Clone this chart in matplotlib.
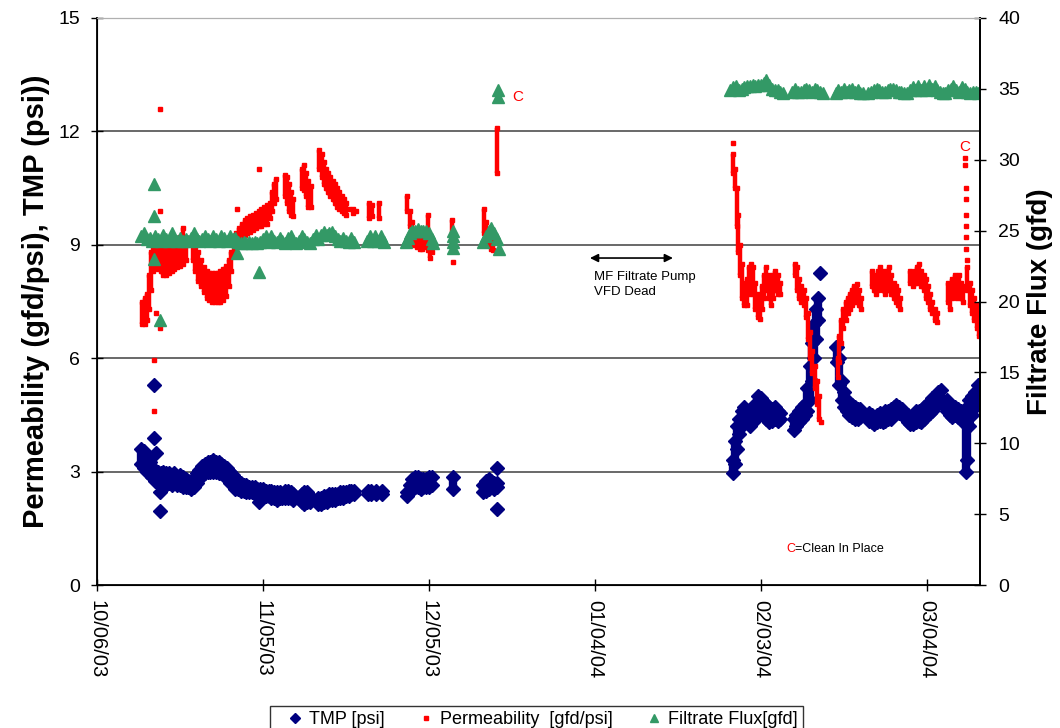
import datetime
import matplotlib
matplotlib.use("Agg")
import matplotlib.pyplot as plt
import matplotlib.dates as mdates
from matplotlib.lines import Line2D

plt.rcParams['font.family'] = ['Liberation Sans', 'DejaVu Sans']

start = datetime.datetime(2003, 10, 6)

# TMP [psi] : (days after 10/06/03, low, high)
tmp_fall = [
    (8.0, 3.2, 3.6), (8.5, 3.1, 3.55), (9.0, 3.0, 3.4), (9.5, 2.95, 3.25), (10.0, 2.85, 3.1),
    (10.5, 2.75, 3.05), (11.0, 2.7, 3.0), (11.5, 2.7, 2.95), (12.0, 2.7, 3.0), (12.5, 2.65, 2.95),
    (13.0, 2.7, 2.95), (13.5, 2.65, 2.9), (14.0, 2.7, 2.95), (14.5, 2.65, 2.85), (15.0, 2.65, 2.9),
    (15.5, 2.6, 2.85), (16.0, 2.6, 2.8), (16.5, 2.6, 2.75), (17.0, 2.55, 2.75), (17.5, 2.6, 2.8),
    (18.0, 2.7, 2.95), (18.5, 2.8, 3.05), (19.0, 2.9, 3.15), (19.5, 2.95, 3.2), (20.0, 3.0, 3.25),
    (20.5, 3.0, 3.25), (21.0, 3.0, 3.3), (21.5, 3.0, 3.25), (22.0, 2.95, 3.25), (22.5, 2.95, 3.2),
    (23.0, 2.9, 3.15), (23.5, 2.8, 3.1), (24.0, 2.7, 3.0), (24.5, 2.65, 2.9), (25.0, 2.55, 2.8),
    (25.5, 2.55, 2.75), (26.0, 2.5, 2.7), (26.5, 2.5, 2.65), (27.0, 2.45, 2.65), (27.5, 2.45, 2.6),
    (28.0, 2.45, 2.6), (28.5, 2.4, 2.6), (29.0, 2.4, 2.55), (29.5, 2.4, 2.55), (30.0, 2.35, 2.55),
    (30.5, 2.35, 2.5), (31.0, 2.35, 2.5), (31.5, 2.3, 2.5), (32.0, 2.3, 2.45), (32.5, 2.25, 2.45),
    (33.0, 2.3, 2.45), (33.5, 2.3, 2.4), (34.0, 2.3, 2.5), (34.5, 2.3, 2.5), (35.0, 2.3, 2.45),
    (35.5, 2.25, 2.4), (37.0, 2.2, 2.4), (37.5, 2.15, 2.45), (38.0, 2.2, 2.45), (38.5, 2.2, 2.35),
    (40.0, 2.15, 2.3), (40.5, 2.15, 2.3), (41.0, 2.2, 2.35), (41.5, 2.2, 2.35), (42.0, 2.25, 2.4),
    (42.5, 2.25, 2.4), (43.0, 2.25, 2.4), (43.5, 2.3, 2.4), (44.0, 2.3, 2.45), (44.5, 2.3, 2.45),
    (45.0, 2.35, 2.45), (45.5, 2.35, 2.5), (46.0, 2.4, 2.5), (46.5, 2.4, 2.5),
    (49.0, 2.4, 2.5), (49.5, 2.4, 2.5), (50.5, 2.4, 2.5), (51.5, 2.4, 2.5),
    (56.0, 2.35, 2.45), (56.5, 2.45, 2.65), (57.0, 2.55, 2.8), (57.5, 2.6, 2.85), (58.0, 2.6, 2.85),
    (58.5, 2.55, 2.8), (59.0, 2.6, 2.8), (59.5, 2.6, 2.8), (60.0, 2.6, 2.85), (60.5, 2.65, 2.85),
    (64.3, 2.55, 2.85),
    (69.8, 2.45, 2.65), (70.3, 2.5, 2.75), (70.8, 2.55, 2.8), (71.3, 2.6, 2.75), (71.8, 2.55, 2.7),
    (72.3, 2.6, 2.7),
]
tmp_winter = [
    (115.0, 2.95, 3.3), (115.3, 3.2, 3.8), (115.6, 3.6, 4.2), (116.0, 4.0, 4.4), (116.5, 4.2, 4.6),
    (117.0, 4.3, 4.7), (117.5, 4.3, 4.6), (118.0, 4.2, 4.5), (118.5, 4.3, 4.7), (119.0, 4.4, 4.8),
    (119.5, 4.6, 5.0), (120.0, 4.6, 4.95), (120.5, 4.5, 4.85), (121.0, 4.4, 4.8), (121.5, 4.3, 4.6),
    (122.0, 4.35, 4.65), (122.5, 4.4, 4.7), (123.0, 4.35, 4.6), (123.5, 4.4, 4.55),
    (125.9, 4.1, 4.4), (126.4, 4.2, 4.5), (126.9, 4.3, 4.6), (127.4, 4.4, 4.7), (127.9, 4.5, 4.8),
    (128.4, 4.6, 5.2), (128.8, 4.9, 5.8), (129.2, 5.4, 6.4), (129.6, 6.0, 6.9), (130.0, 6.5, 7.3),
    (130.4, 7.0, 7.6),
    (133.8, 5.9, 6.3), (134.2, 5.3, 6.0), (134.6, 4.9, 5.4), (135.0, 4.7, 5.1), (135.5, 4.6, 4.9),
    (136.0, 4.5, 4.8), (136.5, 4.45, 4.75), (137.0, 4.4, 4.7), (137.5, 4.4, 4.65), (138.0, 4.45, 4.65),
    (139.5, 4.35, 4.55), (140.0, 4.3, 4.5), (140.5, 4.25, 4.45), (141.0, 4.3, 4.5), (141.5, 4.35, 4.55),
    (142.0, 4.3, 4.5), (142.5, 4.35, 4.6), (143.0, 4.4, 4.6), (143.5, 4.4, 4.65), (144.0, 4.5, 4.7),
    (144.5, 4.55, 4.75), (145.0, 4.55, 4.7), (145.5, 4.5, 4.65),
    (146.5, 4.3, 4.5), (147.0, 4.25, 4.45), (147.5, 4.25, 4.5), (148.0, 4.3, 4.6), (148.5, 4.35, 4.6),
    (149.0, 4.3, 4.55), (149.5, 4.4, 4.7), (150.0, 4.5, 4.8), (150.5, 4.55, 4.85), (151.0, 4.6, 4.95),
    (151.5, 4.7, 5.0), (152.0, 4.8, 5.1), (152.5, 4.85, 5.15),
    (153.6, 4.6, 4.9), (154.1, 4.5, 4.8), (154.6, 4.45, 4.7), (155.1, 4.5, 4.7), (155.6, 4.45, 4.65),
    (156.1, 4.4, 4.6), (156.6, 4.3, 4.5), (157.0, 3.0, 4.3), (157.3, 3.3, 4.7), (157.7, 4.2, 4.9),
    (158.2, 4.5, 5.0), (158.7, 4.7, 5.1), (159.2, 4.9, 5.3),
]
tmp_single = [
    (10.3, 5.3), (10.3, 3.9), (10.6, 3.5), (11.4, 2.45), (11.4, 1.97), (29.3, 2.2),
    (72.3, 3.1), (72.3, 2.0), (130.7, 8.25), (133.6, 6.3),
]

# Permeability [gfd/psi] : (day, low, high)
perm_fall = [
    (8.2, 6.9, 7.5), (8.6, 6.9, 7.6), (9.0, 7.0, 7.7), (9.4, 7.3, 8.2), (9.8, 7.8, 8.8),
    (10.2, 8.3, 9.0), (10.6, 8.4, 9.05), (11.0, 8.35, 9.05), (11.5, 8.3, 9.0), (12.0, 8.2, 9.05),
    (12.5, 8.2, 9.0), (13.0, 8.25, 9.0), (13.5, 8.3, 9.05), (14.0, 8.35, 9.05), (14.5, 8.4, 9.1),
    (15.0, 8.45, 9.2), (15.5, 8.5, 9.45), (16.0, 8.6, 9.1),
    (17.3, 8.6, 9.0), (17.8, 8.3, 8.95), (18.3, 8.05, 8.8), (18.8, 7.9, 8.6), (19.3, 7.75, 8.4),
    (19.8, 7.6, 8.3), (20.3, 7.55, 8.25), (20.8, 7.5, 8.25), (21.3, 7.5, 8.25), (21.8, 7.5, 8.25),
    (22.3, 7.5, 8.3), (22.8, 7.55, 8.35), (23.3, 7.65, 8.45), (23.8, 7.9, 8.6), (24.3, 8.3, 8.8),
    (24.7, 8.7, 9.1), (25.2, 9.0, 9.3), (25.7, 9.1, 9.45), (26.2, 9.2, 9.55), (26.7, 9.25, 9.65),
    (27.2, 9.3, 9.7), (27.7, 9.35, 9.75), (28.2, 9.4, 9.8), (28.7, 9.45, 9.85), (29.2, 9.5, 9.9),
    (29.7, 9.5, 9.95), (30.2, 9.55, 10.0), (30.7, 9.55, 10.05), (31.2, 9.7, 10.1), (31.6, 9.9, 10.4),
    (32.0, 10.1, 10.6), (32.4, 10.2, 10.75),
    (33.9, 10.3, 10.85), (34.3, 10.1, 10.8), (34.7, 9.9, 10.6), (35.1, 9.8, 10.4), (35.5, 9.75, 10.2),
    (37.0, 10.5, 11.0), (37.4, 10.45, 11.1), (37.8, 10.3, 10.9), (38.2, 10.0, 10.7), (38.6, 10.0, 10.55),
    (40.2, 11.0, 11.5), (40.6, 10.8, 11.4), (41.0, 10.6, 11.2), (41.4, 10.5, 11.0), (41.8, 10.4, 10.9),
    (42.2, 10.3, 10.8), (42.6, 10.2, 10.7), (43.0, 10.1, 10.6), (43.4, 10.0, 10.5), (43.8, 9.95, 10.4),
    (44.2, 9.9, 10.3), (44.6, 9.85, 10.2), (45.0, 9.8, 10.1),
    (49.2, 9.7, 10.1), (49.7, 9.75, 10.05), (51.0, 9.7, 10.1),
    (56.1, 9.9, 10.3), (56.5, 9.5, 9.9), (56.9, 9.2, 9.6), (57.3, 9.0, 9.35), (57.8, 8.95, 9.2),
    (58.3, 8.9, 9.15), (58.8, 8.9, 9.15), (59.3, 8.95, 9.2), (59.8, 8.85, 9.8), (60.2, 8.65, 9.1),
    (60.6, 8.8, 9.05),
    (64.2, 9.05, 9.65),
    (70.0, 9.3, 9.95), (70.4, 9.1, 9.6), (70.8, 9.0, 9.3), (71.2, 8.9, 9.2), (71.6, 8.85, 9.1),
    (72.3, 10.9, 12.1),
]
perm_winter = [
    (115.0, 10.9, 11.4), (115.3, 10.5, 11.0), (115.6, 9.5, 10.5), (115.9, 8.8, 9.8), (116.2, 8.2, 9.0),
    (116.5, 7.6, 8.5), (117.0, 7.4, 8.0), (117.4, 7.4, 8.1), (117.8, 7.7, 8.4), (118.2, 7.9, 8.5),
    (118.6, 7.7, 8.4), (119.0, 7.3, 8.0), (119.4, 7.1, 7.7), (119.8, 7.05, 7.6), (120.2, 7.3, 7.9),
    (120.6, 7.6, 8.2), (121.0, 7.8, 8.4), (121.4, 7.6, 8.2), (121.8, 7.4, 8.0), (122.2, 7.6, 8.2),
    (122.6, 7.8, 8.3), (123.0, 7.7, 8.2), (123.4, 7.7, 8.0),
    (126.1, 8.2, 8.5), (126.5, 7.8, 8.4), (126.9, 7.6, 8.1), (127.3, 7.5, 7.9), (127.7, 7.4, 7.8),
    (128.1, 7.1, 7.6), (128.5, 6.5, 7.2), (128.9, 6.0, 6.7), (129.3, 5.6, 6.2), (129.7, 5.2, 5.8),
    (130.1, 4.8, 5.4), (130.5, 4.4, 5.0),
    (133.9, 5.5, 6.0), (134.2, 5.9, 6.6), (134.5, 6.4, 7.0), (134.9, 6.8, 7.3), (135.3, 7.0, 7.5),
    (135.7, 7.2, 7.6), (136.1, 7.3, 7.7), (136.5, 7.4, 7.8), (136.9, 7.5, 7.9), (137.3, 7.5, 7.95),
    (137.7, 7.4, 7.8), (138.1, 7.3, 7.6),
    (140.0, 7.9, 8.3), (140.4, 7.8, 8.2), (140.8, 7.7, 8.1), (141.2, 7.8, 8.3), (141.6, 7.9, 8.4),
    (142.0, 7.8, 8.3), (142.4, 7.7, 8.2), (142.8, 7.8, 8.3), (143.2, 7.9, 8.4), (143.6, 7.7, 8.2),
    (144.0, 7.6, 8.0), (144.4, 7.5, 7.9), (144.8, 7.4, 7.8), (145.2, 7.3, 7.6),
    (147.0, 8.0, 8.3), (147.4, 7.9, 8.2), (147.8, 8.0, 8.3), (148.2, 8.0, 8.4), (148.6, 8.1, 8.5),
    (149.0, 7.9, 8.3), (149.4, 7.8, 8.2), (149.8, 7.6, 8.1), (150.2, 7.5, 7.9), (150.6, 7.3, 7.7),
    (151.0, 7.2, 7.5), (151.4, 7.0, 7.3), (151.8, 6.95, 7.2),
    (153.8, 7.5, 8.0), (154.2, 7.3, 7.9), (154.6, 7.6, 8.1), (155.0, 7.7, 8.2), (155.4, 7.6, 8.1),
    (155.8, 7.8, 8.2), (156.2, 7.6, 8.0), (156.6, 7.5, 7.9),
    (157.3, 7.8, 8.4), (157.8, 7.4, 8.0), (158.2, 7.2, 7.8), (158.6, 7.0, 7.6), (159.0, 6.8, 7.4),
    (159.4, 6.6, 7.2),
]
perm_single = [
    (10.3, 5.95), (10.3, 4.6), (10.6, 7.2), (11.4, 12.6), (11.4, 9.9), (11.4, 6.8),
    (25.3, 9.95), (29.3, 11.0), (45.6, 9.95), (46.2, 9.85), (46.2, 9.95), (46.8, 9.9),
    (64.3, 8.55), (115.0, 11.7), (130.8, 4.3),
    (156.9, 11.3), (156.9, 11.1), (157.0, 10.5), (157.0, 10.2), (157.0, 9.8), (157.1, 9.5),
    (157.1, 9.2), (157.1, 8.9), (157.2, 8.6),
]

# Filtrate Flux [gfd] : (day, value)
flux_fall = [
    (8.0, 24.6), (8.5, 24.8), (9.0, 24.4), (9.5, 24.5), (10.0, 24.3), (10.5, 24.6), (11.0, 24.4),
    (11.5, 24.3), (12.0, 24.7), (12.5, 24.4), (13.0, 24.3), (13.5, 24.8), (14.0, 24.4), (14.5, 24.3),
    (15.0, 24.5), (15.5, 24.3), (16.0, 24.4), (16.5, 24.3), (17.0, 24.5), (17.5, 24.8), (18.0, 24.4),
    (18.5, 24.3), (19.0, 24.4), (19.5, 24.6), (20.0, 24.4), (20.5, 24.3), (21.0, 24.6), (21.5, 24.4),
    (22.0, 24.3), (22.5, 24.6), (23.0, 24.5), (23.5, 24.3), (24.0, 24.6), (24.5, 24.4), (25.0, 24.5),
    (25.5, 24.2), (26.0, 24.1), (26.5, 24.2), (27.0, 24.1), (27.5, 24.2), (28.0, 24.1), (28.5, 24.2),
    (29.0, 24.1), (29.5, 24.2), (30.0, 24.4), (30.5, 24.6), (31.0, 24.2), (31.5, 24.6), (32.0, 24.3),
    (32.5, 24.2), (33.0, 24.5), (33.5, 24.3), (34.0, 24.1), (34.5, 24.5), (35.0, 24.6), (35.5, 24.3),
    (36.0, 24.1), (36.5, 24.3), (37.0, 24.6), (37.5, 24.4), (38.0, 24.2), (38.5, 24.1), (39.0, 24.4),
    (39.5, 24.7), (40.0, 24.4), (40.5, 24.7), (41.0, 24.9), (41.5, 24.7), (42.0, 24.8), (42.5, 24.9),
    (43.0, 24.6), (43.5, 24.4), (44.0, 24.3), (44.5, 24.5), (45.0, 24.3), (45.5, 24.2), (46.0, 24.5),
    (46.5, 24.2),
    (48.8, 24.3), (49.3, 24.6), (49.8, 24.3), (50.3, 24.6), (50.8, 24.3), (51.3, 24.6), (51.8, 24.2),
    (55.8, 24.2), (56.2, 24.5), (56.6, 24.8), (57.0, 25.0), (57.5, 25.0), (58.0, 25.1), (58.5, 25.0),
    (59.0, 25.0), (59.5, 25.0), (60.0, 24.8), (60.5, 24.4), (60.8, 24.1),
    (64.3, 23.8), (64.3, 24.2), (64.3, 24.6), (64.3, 25.0),
    (69.8, 24.2), (70.3, 24.6), (70.8, 25.0), (71.3, 25.2), (71.8, 24.8), (72.3, 24.4), (72.6, 23.7),
    (10.3, 28.3), (10.3, 26.0), (10.3, 23.0), (11.4, 18.7), (25.3, 23.4), (29.3, 22.1),
    (72.5, 34.4), (72.5, 34.9),
]
flux_winter = [
    (114.5, 34.9), (115.0, 35.1), (115.5, 35.2), (116.0, 34.9), (116.5, 35.0), (117.0, 35.1),
    (117.5, 35.2), (118.0, 35.2), (118.5, 35.3), (119.0, 35.2), (119.5, 35.3), (120.0, 35.3),
    (120.5, 35.4), (121.0, 35.6), (121.5, 35.3), (122.0, 35.0), (122.5, 34.9), (123.0, 34.9),
    (123.5, 34.8), (124.0, 34.7),
    (125.7, 34.8), (126.2, 35.0), (126.7, 34.8), (127.2, 34.8), (127.7, 34.9), (128.2, 35.0),
    (128.7, 34.9), (129.2, 34.8), (129.7, 35.0), (130.2, 34.9), (130.7, 34.8), (131.2, 34.7),
    (133.5, 34.7), (134.0, 34.9), (134.5, 34.8), (135.0, 35.0), (135.5, 34.8), (136.0, 34.9),
    (136.5, 35.0), (137.0, 34.8), (137.5, 34.9), (138.0, 34.7), (138.5, 34.7),
    (139.4, 34.7), (139.9, 34.8), (140.4, 34.9), (140.9, 35.0), (141.4, 34.9), (141.9, 34.8),
    (142.4, 34.8), (142.9, 34.9), (143.4, 35.0), (143.9, 35.0), (144.4, 34.9), (144.9, 34.8),
    (145.4, 34.8), (145.9, 34.7),
    (146.4, 34.7), (146.9, 34.9), (147.4, 35.1), (147.9, 34.9), (148.4, 35.2), (148.9, 34.9),
    (149.4, 35.2), (149.9, 34.9), (150.4, 35.3), (150.9, 35.0), (151.4, 35.2), (151.9, 34.9),
    (152.4, 34.8), (152.9, 34.7),
    (153.3, 34.7), (153.8, 34.9), (154.3, 35.0), (154.8, 35.2), (155.3, 34.9), (155.8, 34.8),
    (156.3, 35.1), (156.8, 35.0), (157.3, 34.8), (157.8, 34.7), (158.3, 34.8), (158.8, 34.8),
    (159.3, 34.7),
]

tick_days = [0, 30, 60, 90, 120, 150]
x_end = 159.6

navy = '#000080'
red = '#FF0000'
green = '#339966'

t0 = mdates.date2num(start)


def band(ax, rows, color, lw, marker, ms):
    x = [t0 + r[0] for r in rows]
    lo = [r[1] for r in rows]
    hi = [r[2] for r in rows]
    ax.vlines(x, lo, hi, color=color, lw=lw)
    ax.plot(x, lo, ls='none', marker=marker, ms=ms, color=color, mec=color)
    ax.plot(x, hi, ls='none', marker=marker, ms=ms, color=color, mec=color)


def points(ax, rows, color, marker, ms):
    ax.plot([t0 + r[0] for r in rows], [r[1] for r in rows], ls='none',
            marker=marker, ms=ms, color=color, mec=color)


fig = plt.figure(figsize=(10.6, 7.28), dpi=100)
ax = fig.add_axes([97 / 1060, 1 - 585 / 728, 883 / 1060, 567 / 728])

band(ax, tmp_fall, navy, 6, 'D', 7)
band(ax, tmp_winter, navy, 6, 'D', 7)
points(ax, tmp_single, navy, 'D', 7)
band(ax, perm_fall, red, 3.2, 's', 3.2)
band(ax, perm_winter, red, 3.2, 's', 3.2)
points(ax, perm_single, red, 's', 3.2)

ax.set_ylim(0, 15)
ax.set_yticks([0, 3, 6, 9, 12, 15])
ax.set_xlim(t0, t0 + x_end)
ax.set_xticks([t0 + d for d in tick_days])
ax.xaxis.set_major_formatter(mdates.DateFormatter('%m/%d/%y'))
for y in [3, 6, 9, 12]:
    ax.axhline(y, color='#404040', lw=1.1, zorder=0)
ax.spines['top'].set_color('#b0b0b0')
for s in ['left', 'bottom', 'right']:
    ax.spines[s].set_linewidth(1.3)
ax.tick_params(axis='both', direction='inout', length=8, width=1)
ax.tick_params(axis='y', labelsize=14, pad=8)
ax.tick_params(axis='x', labelsize=14.5, pad=7)
for lab in ax.get_xticklabels():
    lab.set_rotation(270)
    lab.set_ha('center')
    lab.set_va('top')
ax.set_ylabel('Permeability (gfd/psi), TMP (psi))', fontsize=21, fontweight='bold', labelpad=6)

ax2 = ax.twinx()
points(ax2, flux_fall, green, '^', 8)
points(ax2, flux_winter, green, '^', 8)
ax2.set_ylim(0, 40)
ax2.set_yticks(range(0, 41, 5))
ax2.tick_params(axis='y', direction='inout', length=8, width=1, labelsize=14, pad=9)
ax2.spines['right'].set_linewidth(1.3)
ax2.spines['top'].set_color('#b0b0b0')
ax2.set_ylabel('Filtrate Flux (gfd)', fontsize=20, fontweight='bold', labelpad=5)

# annotations
ax.text(t0 + 75.0, 12.9, 'C', color=red, fontsize=11, va='center')
ax.text(t0 + 156.9, 11.6, 'C', color=red, fontsize=11, va='center', ha='center')
ax.annotate('', xy=(t0 + 104.1, 8.65), xytext=(t0 + 89.1, 8.65),
            arrowprops=dict(arrowstyle='<|-|>', color='black', lw=1.2, mutation_scale=12,
                            shrinkA=0, shrinkB=0))
ax.text(t0 + 89.8, 8.3, 'MF Filtrate Pump\nVFD Dead', fontsize=9.5, va='top', ha='left',
        linespacing=1.25)
c_txt = ax.text(t0 + 124.6, 0.95, 'C', color=red, fontsize=9, va='center')
ax.annotate('=Clean In Place', xycoords=c_txt, xy=(1, 0.5), va='center', fontsize=9)

handles = [
    Line2D([], [], ls='none', marker='D', ms=5, color=navy),
    Line2D([], [], ls='none', marker='s', ms=2.8, color=red),
    Line2D([], [], ls='none', marker='^', ms=6, color=green),
]
labels = ['TMP [psi]', 'Permeability  [gfd/psi]', 'Filtrate Flux[gfd]']
leg = fig.legend(handles, labels, loc='upper center', bbox_to_anchor=(0.506, 0.043), ncol=3,
                 fontsize=13, frameon=True, fancybox=False, edgecolor='black',
                 handlelength=2.2, handletextpad=-0.35, columnspacing=1.2, borderpad=0.3)
leg.get_frame().set_linewidth(1.0)

fig.savefig('out.png', dpi=100)
